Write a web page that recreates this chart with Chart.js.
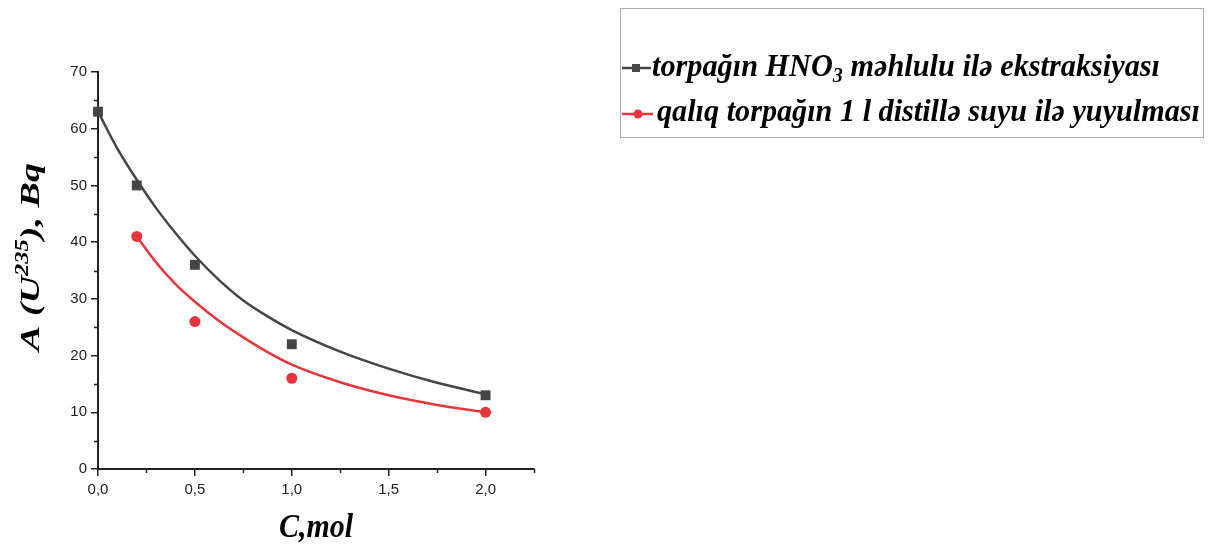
<!DOCTYPE html>
<html>
<head>
<meta charset="utf-8">
<script src="https://cdn.jsdelivr.net/npm/chart.js@4/dist/chart.umd.min.js"></script>
<style>
  html, body { margin: 0; padding: 0; background: #fff; }
  #wrap { width: 1220px; height: 546px; }
</style>
</head>
<body>
<div id="wrap"><canvas id="chart" width="1220" height="546"></canvas></div>
<script>
// ==============================
// データ
// ==============================
const hno3X = [0, 0.2, 0.5, 1.0, 2.0];
const hno3Y = [63, 50, 36, 22, 13];

const waterX = [0.2, 0.5, 1.0, 2.0];
const waterY = [41, 26, 16, 10];

// フィット曲線（図の線から読み取った点）
const hno3FitX = [0, 0.1, 0.2, 0.3, 0.4, 0.5, 0.625, 0.75, 0.875, 1.0, 1.25, 1.5, 1.75, 2.0];
const hno3FitY = [63, 56.5, 51, 46, 41.6, 37.6, 33.3, 29.7, 26.9, 24.5, 20.7, 17.7, 15.2, 13.2];

const waterFitX = [0.2, 0.3, 0.4, 0.5, 0.625, 0.75, 0.875, 1.0, 1.25, 1.5, 1.75, 2.0];
const waterFitY = [41, 36.4, 32.6, 29.5, 26.1, 23.2, 20.6, 18.4, 15.3, 13.0, 11.3, 10.0];

const xTicks = [0, 0.5, 1, 1.5, 2];
const yTickStep = 10;
const xMinorTicks = [0.25, 0.75, 1.25, 1.75, 2.25];
const yMinorTicks = [5, 15, 25, 35, 45, 55, 65];

const legendLabels = ["torpağın HNO", "3", " məhlulu ilə ekstraksiyası"];
const legendLabel2 = "qalıq torpağın 1 l distillə suyu ilə yuyulması";

const DARK = "#454545";
const RED = "#e6353b";
const AXIS = "#222222";

const toPts = (xs, ys) => xs.map((x, i) => ({ x: x, y: ys[i] }));
const fmt = v => v.toFixed(1).replace(".", ",");

// ==============================
// 補助目盛・軸タイトル・凡例
// ==============================
const decorPlugin = {
  id: "decor",
  afterDraw(chart) {
    const ctx = chart.ctx;
    const xs = chart.scales.x;
    const ys = chart.scales.y;
    const area = chart.chartArea;

    ctx.save();
    // minor ticks
    ctx.strokeStyle = AXIS;
    ctx.lineWidth = 1.5;
    xMinorTicks.forEach(v => {
      const px = Math.round(xs.getPixelForValue(v)) + 0.5;
      ctx.beginPath();
      ctx.moveTo(px, area.bottom);
      ctx.lineTo(px, area.bottom + 4);
      ctx.stroke();
    });
    yMinorTicks.forEach(v => {
      const py = Math.round(ys.getPixelForValue(v)) + 0.5;
      ctx.beginPath();
      ctx.moveTo(area.left, py);
      ctx.lineTo(area.left - 4, py);
      ctx.stroke();
    });

    const serif = "'Liberation Serif', 'DejaVu Serif', serif";

    // X軸タイトル
    ctx.save();
    ctx.fillStyle = "#000";
    ctx.font = "bold italic 30px " + serif;
    ctx.textAlign = "center";
    ctx.textBaseline = "alphabetic";
    ctx.translate(316, 537);
    ctx.scale(1, 1.12);
    ctx.fillText("C,mol", 0, 0);
    ctx.restore();

    // Y軸タイトル（縦長に引き伸ばし）
    ctx.fillStyle = "#000";
    ctx.translate(39, 257);
    ctx.rotate(-Math.PI / 2);
    ctx.scale(1.36, 1);
    const big = "bold italic 28px " + serif;
    const small = "bold italic 18px " + serif;
    const parts = [["A (U", big, 0], ["235", small, -11], ["), Bq", big, 0]];
    let total = 0;
    parts.forEach(p => { ctx.font = p[1]; total += ctx.measureText(p[0]).width; });
    let cx = -total / 2;
    ctx.textAlign = "left";
    parts.forEach(p => {
      ctx.font = p[1];
      ctx.fillText(p[0], cx, p[2]);
      cx += ctx.measureText(p[0]).width;
    });
    ctx.restore();

    // 凡例
    ctx.save();
    ctx.strokeStyle = "#b0b0b0";
    ctx.lineWidth = 1;
    ctx.strokeRect(620.5, 8.5, 583, 129);

    // 記号
    ctx.strokeStyle = DARK;
    ctx.lineWidth = 2.5;
    ctx.beginPath(); ctx.moveTo(622, 68); ctx.lineTo(651, 68); ctx.stroke();
    ctx.fillStyle = DARK;
    ctx.fillRect(632, 64, 8, 8);

    ctx.strokeStyle = RED;
    ctx.beginPath(); ctx.moveTo(622, 114); ctx.lineTo(653, 114); ctx.stroke();
    ctx.fillStyle = RED;
    ctx.beginPath(); ctx.arc(638, 114, 4.5, 0, Math.PI * 2); ctx.fill();

    // テキスト（横方向に圧縮して幅を合わせる）
    ctx.fillStyle = "#000";
    ctx.textAlign = "left";
    ctx.textBaseline = "alphabetic";
    const lf = "bold italic 30px " + serif;
    const sf = "bold italic 20px " + serif;

    ctx.font = lf;
    let w1 = ctx.measureText(legendLabels[0]).width + ctx.measureText(legendLabels[2]).width;
    ctx.font = sf;
    w1 += ctx.measureText(legendLabels[1]).width;
    const s1 = 508 / w1;
    ctx.save();
    ctx.translate(652, 76);
    ctx.scale(s1, 1.05);
    let px = 0;
    ctx.font = lf; ctx.fillText(legendLabels[0], px, 0); px += ctx.measureText(legendLabels[0]).width;
    ctx.font = sf; ctx.fillText(legendLabels[1], px, 6); px += ctx.measureText(legendLabels[1]).width;
    ctx.font = lf; ctx.fillText(legendLabels[2], px, 0);
    ctx.restore();

    ctx.font = lf;
    const s2 = 543 / ctx.measureText(legendLabel2).width;
    ctx.save();
    ctx.translate(657, 121);
    ctx.scale(s2, 1.05);
    ctx.fillText(legendLabel2, 0, 0);
    ctx.restore();

    ctx.restore();
  }
};

// ==============================
// グラフ
// ==============================
new Chart(document.getElementById("chart"), {
  type: "scatter",
  data: {
    datasets: [
      {
        type: "line",
        data: toPts(hno3FitX, hno3FitY),
        borderColor: DARK,
        borderWidth: 2.5,
        pointRadius: 0,
        cubicInterpolationMode: "monotone",
        fill: false,
        clip: false
      },
      {
        type: "line",
        data: toPts(waterFitX, waterFitY),
        borderColor: RED,
        borderWidth: 2.5,
        pointRadius: 0,
        cubicInterpolationMode: "monotone",
        fill: false,
        clip: false
      },
      {
        data: toPts(hno3X, hno3Y),
        pointStyle: "rect",
        pointRadius: 7,
        backgroundColor: DARK,
        borderColor: DARK,
        borderWidth: 0,
        clip: false
      },
      {
        data: toPts(waterX, waterY),
        pointStyle: "circle",
        pointRadius: 5.5,
        backgroundColor: RED,
        borderColor: RED,
        borderWidth: 0,
        clip: false
      }
    ]
  },
  options: {
    responsive: false,
    animation: false,
    layout: { padding: { left: 0, top: 72, right: 686, bottom: 0 } },
    plugins: {
      legend: { display: false },
      tooltip: { enabled: false }
    },
    scales: {
      x: {
        type: "linear",
        min: 0,
        max: 2.25,
        afterFit: s => { s.height = 77; },
        afterBuildTicks: s => { s.ticks = xTicks.map(v => ({ value: v })); },
        ticks: {
          callback: v => fmt(v),
          color: AXIS,
          font: { family: "'Liberation Sans', Arial, sans-serif", size: 15 },
          padding: 5,
          maxRotation: 0
        },
        grid: { drawOnChartArea: false, tickLength: 7, color: AXIS, lineWidth: 1.5 },
        border: { display: true, color: AXIS, width: 2 }
      },
      y: {
        min: 0,
        max: 70,
        afterFit: s => { s.width = 98; },
        ticks: {
          stepSize: yTickStep,
          callback: v => String(v),
          color: AXIS,
          font: { family: "'Liberation Sans', Arial, sans-serif", size: 15 },
          padding: 4
        },
        grid: { drawOnChartArea: false, tickLength: 7, color: AXIS, lineWidth: 1.5 },
        border: { display: true, color: AXIS, width: 2 }
      }
    }
  },
  plugins: [decorPlugin]
});
</script>
</body>
</html>
